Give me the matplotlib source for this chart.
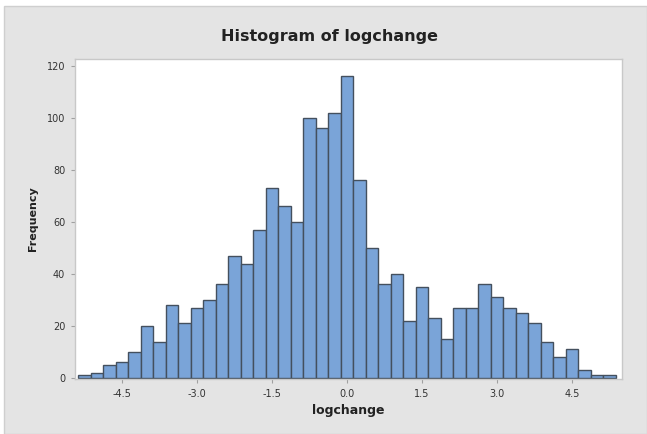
import matplotlib
matplotlib.use("Agg")
import matplotlib.pyplot as plt
from matplotlib.patches import Rectangle
import numpy as np

# Data
bin_width = 0.25
bin_centers = np.arange(-5.25, 5.25 + 1e-9, 0.25)
counts = [1, 2, 5, 6, 10, 20, 14, 28, 21, 27, 30, 36, 47, 44, 57, 73, 66, 60,
          100, 96, 102, 116, 76, 50, 36, 40, 22, 35, 23, 15, 27, 27, 36, 31,
          27, 25, 21, 14, 8, 11, 3, 1, 1]
xticks = [-4.5, -3.0, -1.5, 0.0, 1.5, 3.0, 4.5]
xtick_labels = ["-4.5", "-3.0", "-1.5", "0.0", "1.5", "3.0", "4.5"]
yticks = [0, 20, 40, 60, 80, 100, 120]

W, H = 647, 434
fig = plt.figure(figsize=(W / 100, H / 100), dpi=100)
fig.patch.set_facecolor("white")
bg = Rectangle((4 / W, 0), 1 - 4 / W, 1 - 6 / H, transform=fig.transFigure,
               facecolor="#e4e4e4", edgecolor="#cfcfcf", linewidth=1.0, zorder=-10)
fig.add_artist(bg)

ax = fig.add_axes([75 / W, 1 - 379 / H, (622 - 75) / W, (379 - 59) / H])
ax.set_zorder(5)
ax.set_facecolor("white")
ax.bar(bin_centers, counts, width=bin_width, color="#7aa4d8", edgecolor="#44505e",
       linewidth=1.0, align="center")
ax.set_xlim(-5.44, 5.5)
ax.set_ylim(-0.4, 122.7)
ax.set_xticks(xticks)
ax.set_xticklabels(xtick_labels)
ax.set_yticks(yticks)
for s in ax.spines.values():
    s.set_color("#c8c8c8")
    s.set_linewidth(1.0)
ax.tick_params(axis="both", direction="out", length=3, width=0.8, color="#a0a0a0",
               labelsize=7, labelcolor="#333333", pad=4)
ax.set_xlabel("logchange", fontsize=9, fontweight="bold", color="#222222", labelpad=4)
ax.set_ylabel("Frequency", fontsize=8, fontweight="bold", color="#222222", labelpad=6)
fig.text(0.51, 1 - 37 / H, "Histogram of logchange", ha="center", va="center",
         fontsize=11.5, fontweight="bold", color="#222222", zorder=10)

fig.savefig("out.png", dpi=100, facecolor=fig.get_facecolor())
